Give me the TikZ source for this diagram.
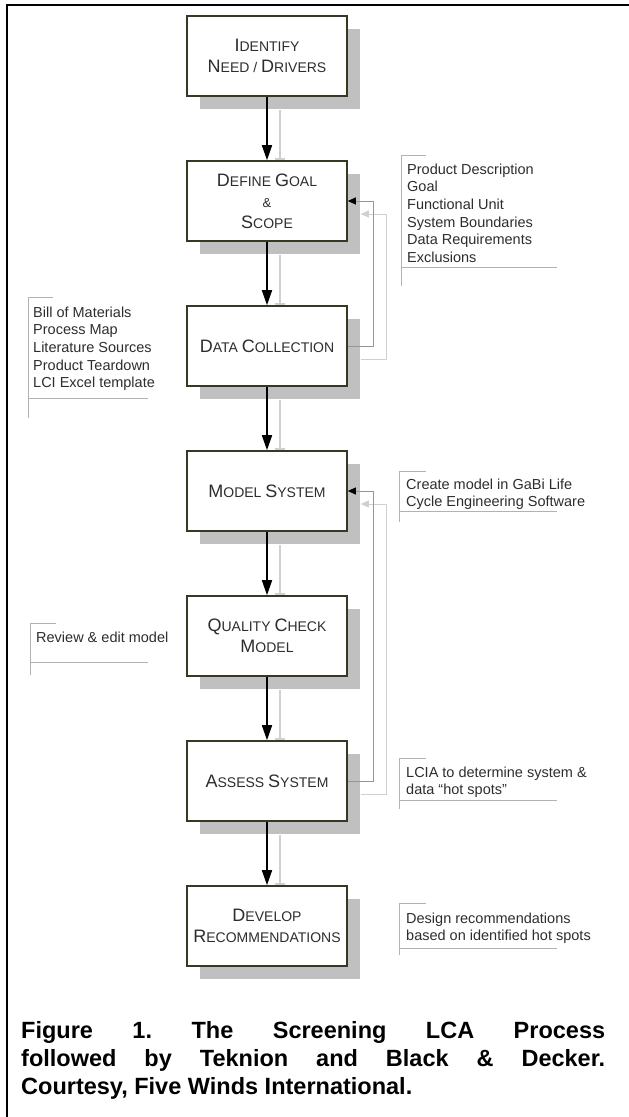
\documentclass[tikz,border=0pt]{standalone}
\usepackage{fontspec}
\setmainfont{Liberation Sans}
\usetikzlibrary{arrows.meta,shadows,backgrounds}

\definecolor{boxline}{RGB}{55,55,35}
\definecolor{boxshade}{RGB}{192,192,192}
\definecolor{linkshade}{RGB}{208,208,208}
\definecolor{fbline}{RGB}{150,150,150}
\definecolor{bracket}{RGB}{178,178,178}
\definecolor{txt}{RGB}{45,45,45}

% fake small caps: first letter big, rest small
\newcommand{\scword}[2]{{\fontsize{18}{21}\selectfont #1}{\fontsize{14}{21}\selectfont #2}}

\begin{document}
\begin{tikzpicture}[
  x=1pt, y=-1pt,
  every node/.style={inner sep=1pt},
  proc/.style={draw=boxline, line width=1.6pt, fill=white, text=txt,
    minimum width=160pt, minimum height=80pt, inner sep=0pt, align=center,
    font=\fontsize{14}{21}\selectfont,
    drop shadow={shadow xshift=13pt, shadow yshift=-13pt, fill=boxshade, opacity=1}},
  note/.style={anchor=north west, inner sep=0pt, align=left, text=txt,
    font=\fontsize{14.5}{17.6}\selectfont},
  % main flow arrow and its grey shadow copy
  arrow/.style={draw, line width=1.6pt, -{Triangle[length=15pt, width=10pt]}},
  shade/.style={draw=linkshade, line width=1.6pt, -{Triangle[length=15pt, width=10pt]}},
  % feedback loops
  fback/.style={draw=fbline, line width=0.9pt, -{Triangle[length=8pt, width=7pt, color=black]}},
  fbshade/.style={draw=linkshade, line width=0.9pt, -{Triangle[length=8pt, width=7pt]}},
  brk/.style={draw=bracket, line width=0.9pt}]

  \useasboundingbox (0,0) rectangle (629,1117);

  % frame
  \draw[line width=1.8pt] (629,5) -- (7,5) -- (7,1117);

  % process boxes
  \node[proc] (need)    at (267,56)  {\scword{I}{DENTIFY}\\\scword{N}{EED / }\scword{D}{RIVERS}};
  \node[proc] (goal)    at (267,201) {\scword{D}{EFINE }\scword{G}{OAL}\\{\fontsize{13}{21}\selectfont \&}\\\scword{S}{COPE}};
  \node[proc] (data)    at (267,346) {\scword{D}{ATA }\scword{C}{OLLECTION}};
  \node[proc] (model)   at (267,491) {\scword{M}{ODEL }\scword{S}{YSTEM}};
  \node[proc] (quality) at (267,636) {\scword{Q}{UALITY }\scword{C}{HECK}\\\scword{M}{ODEL}};
  \node[proc] (assess)  at (267,781) {\scword{A}{SSESS }\scword{S}{YSTEM}};
  \node[proc] (develop) at (267,926) {\scword{D}{EVELOP}\\\scword{R}{ECOMMENDATIONS}};

  % arrows
  \draw[arrow] (need)    -- (goal);
  \draw[arrow] (goal)    -- (data);
  \draw[arrow] (data)    -- (model);
  \draw[arrow] (model)   -- (quality);
  \draw[arrow] (quality) -- (assess);
  \draw[arrow] (assess)  -- (develop);
  \draw[fback] (data.east)   -- ++(26,0) |- (goal.east);
  \draw[fback] (assess.east) -- ++(26,0) |- (model.east);

  % shadows of the arrows, behind the boxes
  \begin{pgfonlayer}{background}
    \draw[shade] ([shift={(13,13)}]need.south)    -- ([shift={(13,13)}]goal.north);
    \draw[shade] ([shift={(13,13)}]goal.south)    -- ([shift={(13,13)}]data.north);
    \draw[shade] ([shift={(13,13)}]data.south)    -- ([shift={(13,13)}]model.north);
    \draw[shade] ([shift={(13,13)}]model.south)   -- ([shift={(13,13)}]quality.north);
    \draw[shade] ([shift={(13,13)}]quality.south) -- ([shift={(13,13)}]assess.north);
    \draw[shade] ([shift={(13,13)}]assess.south)  -- ([shift={(13,13)}]develop.north);
    \draw[fbshade] ([shift={(13,13)}]data.east)   -- ++(26,0) |- ([shift={(13,13)}]goal.east);
    \draw[fbshade] ([shift={(13,13)}]assess.east) -- ++(26,0) |- ([shift={(13,13)}]model.east);
  \end{pgfonlayer}

  % side notes
  \node[note] (goalnote) at (407,163.5) {Product Description\\Goal\\Functional Unit\\System Boundaries\\Data Requirements\\Exclusions};
  \draw[brk] (426,155) -- (401,155) -- (401,286) (401,267) -- (557,267);

  \node[note] (datanote) at (33,306.5) {Bill of Materials\\Process Map\\Literature Sources\\Product Teardown\\LCI Excel template};
  \draw[brk] (53,297) -- (28,297) -- (28,418) (28,398) -- (148,398);

  \node[note] (modelnote) at (406,478.5) {Create model in GaBi Life\\Cycle Engineering Software};
  \draw[brk] (426,471) -- (399,471) -- (399,522) (399,511) -- (557,511);

  \node[note] (qualnote) at (36,631.5) {Review \& edit model};
  \draw[brk] (56,623) -- (30,623) -- (30,675) (30,662) -- (148,662);

  \node[note] (assessnote) at (406,766.5) {LCIA to determine system \&\\data ``hot spots''};
  \draw[brk] (426,758) -- (399,758) -- (399,809) (399,800) -- (557,800);

  \node[note] (devnote) at (406,912.5) {Design recommendations\\based on identified hot spots};
  \draw[brk] (426,903) -- (399,903) -- (399,955) (399,948) -- (557,948);

  % caption
  \node[anchor=north west, inner sep=0pt, text width=584pt, align=justify,
        font=\bfseries\fontsize{23.5}{28}\selectfont\frenchspacing] (caption) at (21,1021)
    {Figure 1. The Screening LCA Process\linebreak followed by Teknion and Black \& Decker.\linebreak Courtesy, Five Winds International.};
\end{tikzpicture}
\end{document}
